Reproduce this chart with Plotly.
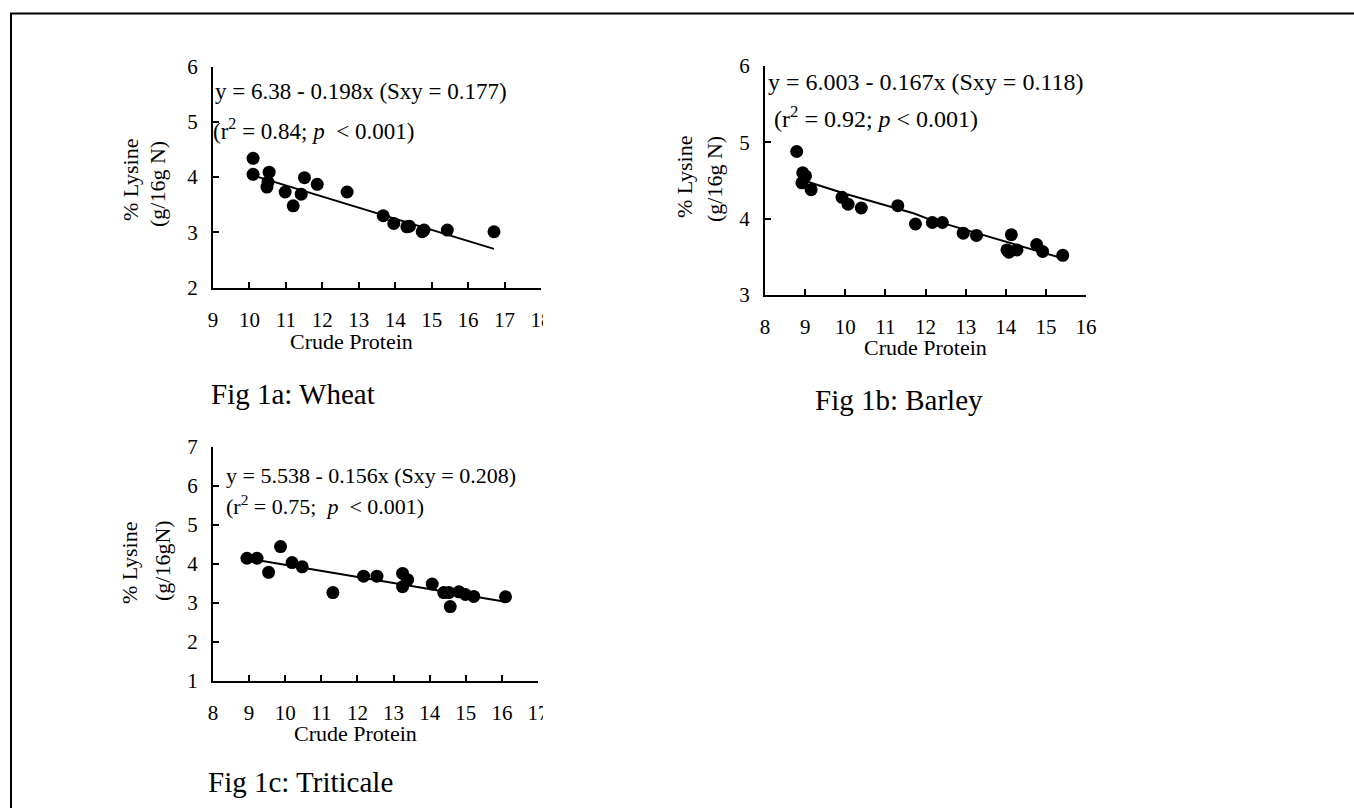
import plotly.graph_objects as go

W, H = 1354, 808
FONT = "Liberation Serif"

# ---- Data: Fig 1a Wheat ----
wheat_cp = [10.10, 10.10, 10.54, 10.51, 10.48, 10.98, 11.20, 11.42, 11.51, 11.86,
            12.68, 13.67, 13.96, 14.32, 14.39, 14.74, 14.79, 15.43, 16.71]
wheat_lys = [4.34, 4.05, 4.09, 3.91, 3.82, 3.73, 3.48, 3.69, 3.99, 3.87,
             3.73, 3.30, 3.16, 3.10, 3.11, 3.01, 3.04, 3.04, 3.01]
wheat_fit_cp = [10.10, 12.70, 16.71]
wheat_fit_lys = [4.03, 3.51, 2.70]

# ---- Data: Fig 1b Barley ----
barley_cp = [8.79, 8.94, 9.01, 8.92, 9.15, 9.92, 10.07, 10.40, 11.31, 11.75, 12.17,
             12.42, 12.94, 13.27, 14.03, 14.08, 14.14, 14.28, 14.77, 14.92, 15.42]
barley_lys = [4.88, 4.60, 4.56, 4.47, 4.38, 4.28, 4.19, 4.14, 4.17, 3.93, 3.95,
              3.95, 3.81, 3.78, 3.59, 3.56, 3.79, 3.59, 3.66, 3.57, 3.52]
barley_fit_cp = [9.02, 10.04, 11.70, 12.05, 15.48]
barley_fit_lys = [4.49, 4.32, 4.07, 4.00, 3.47]

# ---- Data: Fig 1c Triticale ----
trit_cp = [8.94, 9.22, 9.54, 9.87, 10.19, 10.47, 11.32, 12.17, 12.54, 13.25,
           13.39, 13.25, 14.07, 14.39, 14.53, 14.57, 14.81, 14.99, 15.22, 16.10]
trit_lys = [4.14, 4.14, 3.78, 4.44, 4.03, 3.92, 3.26, 3.68, 3.68, 3.75,
            3.59, 3.41, 3.48, 3.26, 3.26, 2.90, 3.28, 3.21, 3.16, 3.15]
trit_fit_cp = [9.29, 16.05]
trit_fit_lys = [4.08, 3.03]

wheat_xticks = list(range(9, 19))
wheat_yticks = [2, 3, 4, 5, 6]
barley_xticks = list(range(8, 17))
barley_yticks = [3, 4, 5, 6]
trit_xticks = list(range(8, 18))
trit_yticks = [1, 2, 3, 4, 5, 6, 7]


def fx(p):
    return p / W


def fy(p):
    return 1 - p / H


fig = go.Figure()

panels = [
    (wheat_cp, wheat_lys, wheat_fit_cp, wheat_fit_lys, (213, 541), (66.7, 287.5), [9, 18], [2, 6], wheat_xticks, wheat_yticks),
    (barley_cp, barley_lys, barley_fit_cp, barley_fit_lys, (765, 1086), (66, 295), [8, 16], [3, 6], barley_xticks, barley_yticks),
    (trit_cp, trit_lys, trit_fit_cp, trit_fit_lys, (213, 538), (446.7, 680.7), [8, 17], [1, 7], trit_xticks, trit_yticks),
]

for i, (xs, ys, fxs, fys, xd, yd, xr, yr, xt, yt) in enumerate(panels, start=1):
    xa = "x" if i == 1 else f"x{i}"
    ya = "y" if i == 1 else f"y{i}"
    fig.add_trace(go.Scatter(x=fxs, y=fys, mode="lines", line=dict(color="black", width=2),
                             xaxis=xa, yaxis=ya, showlegend=False, hoverinfo="skip"))
    fig.add_trace(go.Scatter(x=xs, y=ys, mode="markers", marker=dict(color="black", size=13),
                             xaxis=xa, yaxis=ya, showlegend=False))
    xkey = "xaxis" if i == 1 else f"xaxis{i}"
    ykey = "yaxis" if i == 1 else f"yaxis{i}"
    fig.layout[xkey] = dict(domain=[fx(xd[0]), fx(xd[1])], range=xr, anchor=ya,
                            tickmode="array", tickvals=xt, ticktext=[str(v) for v in xt],
                            ticks="inside", ticklen=6, tickwidth=1.5, tickcolor="black",
                            showline=True, linecolor="black", linewidth=2, automargin=False,
                            showgrid=False, zeroline=False, ticklabelstandoff=12,
                            tickfont=dict(family=FONT, size=21, color="black"))
    fig.layout[ykey] = dict(domain=[fy(yd[1]), fy(yd[0])], range=yr, anchor=xa,
                            tickmode="array", tickvals=yt, ticktext=[str(v) for v in yt],
                            ticks="inside", ticklen=6, tickwidth=1.5, tickcolor="black",
                            showline=True, linecolor="black", linewidth=2, automargin=False,
                            showgrid=False, zeroline=False, ticklabelstandoff=9,
                            tickfont=dict(family=FONT, size=21, color="black"))

anns = []


def ann(text, x, y, size, xanchor="left", angle=0):
    anns.append(dict(text=text, x=fx(x), y=fy(y), xref="paper", yref="paper",
                     xanchor=xanchor, yanchor="middle", showarrow=False, textangle=angle,
                     font=dict(family=FONT, size=size, color="black")))


# equations
ann("y = 6.38 - 0.198x (Sxy = 0.177)", 213, 92, 23)
ann("(r<sup>2</sup> = 0.84; <i>p</i>  < 0.001)", 211, 129, 23)
ann("y = 6.003 - 0.167x (Sxy = 0.118)", 766, 82, 24)
ann("(r<sup>2</sup> = 0.92; <i>p</i> < 0.001)", 772, 117, 24)
ann("y = 5.538 - 0.156x (Sxy = 0.208)", 224, 475, 22)
ann("(r<sup>2</sup> = 0.75;  <i>p</i>  < 0.001)", 224, 505, 22)

# axis titles
ann("Crude Protein", 352, 341, 22, "center")
ann("Crude Protein", 925, 348, 22, "center")
ann("Crude Protein", 355, 733, 22, "center")
ann("% Lysine", 131, 180, 22, "center", -90)
ann("(g/16g N)", 158, 184, 22, "center", -90)
ann("% Lysine", 685, 177, 22, "center", -90)
ann("(g/16g N)", 715, 179, 22, "center", -90)
ann("% Lysine", 129, 563, 22, "center", -90)
ann("(g/16gN)", 162, 561, 22, "center", -90)

# figure labels
ann("Fig 1a: Wheat", 209, 394, 29)
ann("Fig 1b: Barley", 813, 400, 29)
ann("Fig 1c: Triticale", 206, 782, 29)

shapes = [
    dict(type="rect", xref="paper", yref="paper", x0=fx(11), y0=fy(13.5), x1=fx(W + 20), y1=fy(H + 20),
         line=dict(color="black", width=2), fillcolor="rgba(0,0,0,0)", layer="above"),
    dict(type="rect", xref="paper", yref="paper", x0=fx(543), y0=fy(300), x1=fx(570), y1=fy(335),
         line=dict(width=0), fillcolor="white", layer="above"),
    dict(type="rect", xref="paper", yref="paper", x0=fx(543), y0=fy(693), x1=fx(570), y1=fy(728),
         line=dict(width=0), fillcolor="white", layer="above"),
]

fig.update_layout(width=W, height=H, margin=dict(l=0, r=0, t=0, b=0, pad=0, autoexpand=False),
                  paper_bgcolor="white", plot_bgcolor="white",
                  annotations=anns, shapes=shapes, showlegend=False,
                  font=dict(family=FONT, color="black"))

post = ("var gd=document.getElementById('{plot_id}');"
        "document.body.style.margin='0';document.body.style.overflow='hidden';"
        "gd.style.position='fixed';gd.style.left='0px';gd.style.top='0px';")

fig.write_html("out.html", post_script=post, config={"displayModeBar": False})
